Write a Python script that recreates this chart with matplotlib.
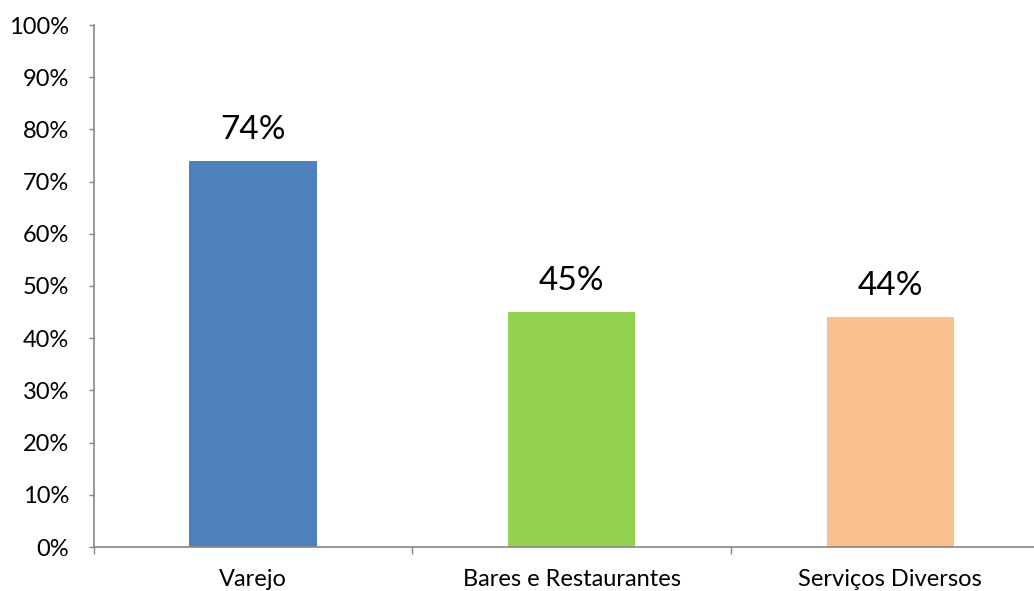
import matplotlib
matplotlib.use("Agg")
import matplotlib.pyplot as plt
from matplotlib.ticker import FixedLocator, PercentFormatter

categories = ["Varejo", "Bares e Restaurantes", "Serviços Diversos"]
values = [74, 45, 44]
colors = ["#4F81BD", "#92D050", "#F9C090"]

plt.rcParams["font.family"] = ["Lato", "DejaVu Sans"]

fig = plt.figure(figsize=(10.34, 5.91), dpi=100)
ax = fig.add_axes([93.7 / 1034, 44 / 591, 956 / 1034, 522 / 591])

x = list(range(len(categories)))
ax.bar(x, values, width=0.4, color=colors, zorder=2)

for xi, v in zip(x, values):
    ax.annotate(f"{v}%", (xi, v), xytext=(0, 15.8), textcoords="offset points",
                ha="center", va="baseline", fontsize=24, color="black")

ax.set_xlim(-0.5, len(categories) - 0.5)
ax.set_ylim(0, 100)
ax.set_yticks(range(0, 101, 10))
ax.yaxis.set_major_formatter(PercentFormatter(decimals=0))

ax.set_xticks(x)
ax.set_xticklabels(categories)
ax.xaxis.set_minor_locator(FixedLocator([-0.5, 0.5, 1.5, 2.5]))

grey = "#868686"
for s in ["top", "right"]:
    ax.spines[s].set_visible(False)
for s in ["left", "bottom"]:
    ax.spines[s].set_color(grey)
    ax.spines[s].set_linewidth(1.2)

ax.tick_params(axis="y", length=3.6, width=1.0, color=grey, pad=14, labelsize=17)
ax.tick_params(axis="x", which="major", length=0, pad=16, labelsize=17)
ax.tick_params(axis="x", which="minor", length=5, width=1.0, color=grey)

fig.savefig("out.png", dpi=100)
